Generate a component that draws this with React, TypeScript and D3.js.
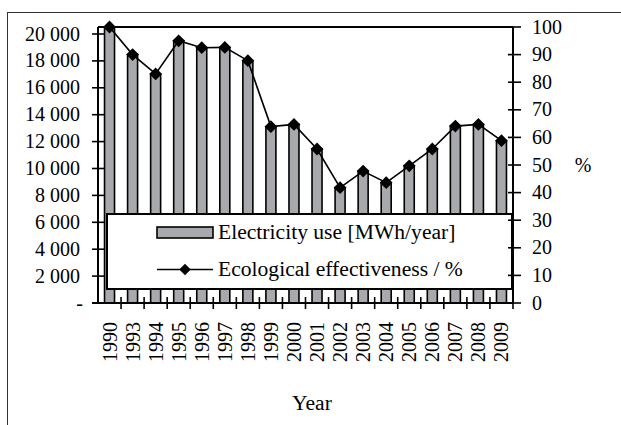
import React from "react";
import * as d3 from "d3";

const years = ["1990","1993","1994","1995","1996","1997","1998","1999","2000","2001","2002","2003","2004","2005","2006","2007","2008","2009"];
const electricity = [20500,18470,17030,19500,18980,19000,18020,13110,13280,11450,8580,9810,8950,10200,11450,13150,13280,12070];
const effectiveness = [100,90,83,95,92.5,92.6,87.8,63.9,64.7,55.8,41.8,47.8,43.6,49.7,55.8,64.1,64.7,58.8];
const leftTicks = [0,2000,4000,6000,8000,10000,12000,14000,16000,18000,20000];
const rightTicks = [0,10,20,30,40,50,60,70,80,90,100];
const legendLabels = ["Electricity use [MWh/year]", "Ecological effectiveness / %"];
const xTitle = "Year";
const rightTitle = "%";

const FONT = "'Liberation Serif', 'Times New Roman', serif";
const FS = 20;
const FS_TXT = 21.6;
const BAR_FILL = "#a7a9ac";

export default function App() {
  const W = 621, H = 425;
  const left = 98, right = 513, top = 27, bottom = 303;
  const x = d3.scaleBand<string>().domain(years).range([left, right]).paddingInner(0).paddingOuter(0);
  const yL = d3.scaleLinear().domain([0, 20520]).range([bottom, top]);
  const yR = d3.scaleLinear().domain([0, 100]).range([bottom, top]);
  const barW = 10;
  const fmt = (v: number) => (v === 0 ? "-" : d3.format(",")(v).replace(/,/g, " "));
  const line = d3.line<number>().x((_, i) => x(years[i])! + x.bandwidth() / 2).y((d) => yR(d));
  const diamond = d3.symbol().type(d3.symbolSquare).size(82)();
  const diamondSmall = d3.symbol().type(d3.symbolSquare).size(66)();

  const legX = 107, legY = 214, legW = 405, legH = 75;

  return (
    <svg width={W} height={H} style={{ position: "absolute", left: 0, top: 0, background: "#fff" }} fontFamily={FONT}>
      {/* outer frame */}
      <rect x={7.5} y={12.5} width={700} height={500} fill="none" stroke="#333" strokeWidth={1} />
      {/* bars */}
      {electricity.map((v, i) => {
        const cx = x(years[i])! + x.bandwidth() / 2;
        return (
          <rect key={years[i]} x={cx - barW / 2} y={yL(v)} width={barW} height={bottom - yL(v)}
            fill={BAR_FILL} stroke="#000" strokeWidth={1.6} />
        );
      })}
      {/* plot border top */}
      <line x1={left} x2={right} y1={top} y2={top} stroke="#000" strokeWidth={1.8} />
      {/* line series */}
      <path d={line(effectiveness)!} fill="none" stroke="#000" strokeWidth={1.6} />
      {effectiveness.map((v, i) => (
        <path key={"d" + i} d={diamond!} fill="#000"
          transform={`translate(${x(years[i])! + x.bandwidth() / 2},${yR(v)}) rotate(45)`} />
      ))}
      {/* legend */}
      <rect x={legX} y={legY} width={legW} height={legH} fill="#fff" stroke="#000" strokeWidth={2} />
      <rect x={157} y={227} width={56} height={11} fill={BAR_FILL} stroke="#000" strokeWidth={1.6} />
      <text x={218} y={239} fontSize={FS_TXT}>{legendLabels[0]}</text>
      <line x1={157} x2={213} y1={269.5} y2={269.5} stroke="#000" strokeWidth={1.6} />
      <path d={diamondSmall!} fill="#000" transform={`translate(185,269.5) rotate(45)`} />
      <text x={218} y={276} fontSize={FS_TXT}>{legendLabels[1]}</text>
      {/* left axis */}
      <line x1={left} x2={left} y1={top} y2={bottom} stroke="#000" strokeWidth={2} />
      {leftTicks.map((t) => (
        <g key={"l" + t}>
          <line x1={left - 6} x2={left + 6} y1={yL(t)} y2={yL(t)} stroke="#000" strokeWidth={1.6} />
          <text x={t === 0 ? 83 : 80} y={yL(t)} dy="0.33em" textAnchor="end" fontSize={FS}>{fmt(t)}</text>
        </g>
      ))}
      {/* right axis */}
      <line x1={right} x2={right} y1={top} y2={bottom} stroke="#000" strokeWidth={2} />
      {rightTicks.map((t) => (
        <g key={"r" + t}>
          <line x1={right - 5} x2={right + 8} y1={yR(t)} y2={yR(t)} stroke="#000" strokeWidth={1.6} />
          <text x={532} y={yR(t)} dy="0.33em" textAnchor="start" fontSize={FS}>{t}</text>
        </g>
      ))}
      <text x={583} y={165} dy="0.33em" textAnchor="middle" fontSize={FS}>{rightTitle}</text>
      {/* x axis */}
      <line x1={left - 6} x2={right} y1={bottom} y2={bottom} stroke="#000" strokeWidth={2} />
      {years.map((yr, i) => (
        <g key={"x" + yr}>
          {i > 0 && (
            <line x1={x(yr)!} x2={x(yr)!} y1={bottom - 6} y2={bottom + 6} stroke="#000" strokeWidth={1.6} />
          )}
          <text transform={`translate(${x(yr)! + x.bandwidth() / 2},322) rotate(-90)`} dy="0.35em"
            textAnchor="end" fontSize={FS}>{yr}</text>
        </g>
      ))}
      <line x1={right} x2={right} y1={bottom} y2={bottom + 6} stroke="#000" strokeWidth={1.6} />
      <text x={312} y={410} textAnchor="middle" fontSize={FS_TXT}>{xTitle}</text>
    </svg>
  );
}
